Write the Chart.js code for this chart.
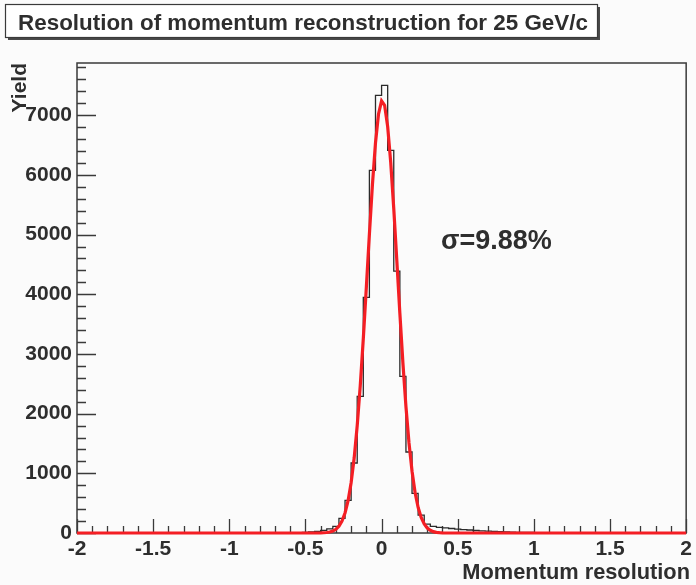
<!DOCTYPE html>
<html><head><meta charset="utf-8">
<script src="https://cdn.jsdelivr.net/npm/chart.js@4.4.0/dist/chart.umd.min.js"></script>
<style>html,body{margin:0;padding:0;background:#fbfbfb}#wrap{width:696px;height:585px}</style>
</head><body><div id="wrap"><canvas id="c" width="696" height="585"></canvas></div>
<script>
// ---- data ----
const binStart = -0.60;
const binWidth = 0.04;
const binCounts = [3, 5, 10, 18, 28, 45, 70, 110, 246, 548, 1173, 2290, 3948, 6076, 7332,
  7499, 6410, 4389, 2625, 1357, 665, 300, 150, 110, 95, 85, 75, 65, 58, 50,
  42, 36, 30, 26, 22, 18, 15, 12, 10, 8];
const fitX = [-2, -0.40, -0.38, -0.36, -0.34, -0.32, -0.30, -0.28, -0.26, -0.24, -0.22, -0.20,
  -0.18, -0.16, -0.14, -0.12, -0.10, -0.08, -0.06, -0.04, -0.02, 0.00, 0.02, 0.04, 0.06,
  0.08, 0.10, 0.12, 0.14, 0.16, 0.18, 0.20, 0.22, 0.24, 0.26, 0.28, 0.30, 0.32, 0.34,
  0.36, 0.38, 0.40, 2];
const fitY = [0, 2, 4, 8, 16, 32, 62, 113, 199, 335, 542, 842,
  1256, 1798, 2469, 3257, 4121, 5008, 5839, 6536, 7022, 7241, 7167, 6809, 6209,
  5435, 4566, 3683, 2851, 2118, 1510, 1034, 679, 428, 259, 151, 84, 45, 23,
  11, 5, 2, 0];
const xTickValues = [-2, -1.5, -1, -0.5, 0, 0.5, 1, 1.5, 2];
const yTickValues = [0, 1000, 2000, 3000, 4000, 5000, 6000, 7000];
const xMin = -2, xMax = 2, xMinor = 0.1;
const yMin = 0, yMax = 7875, yMinor = 200;
const titleText = 'Resolution of momentum reconstruction for 25 GeV/c';
const xTitle = 'Momentum resolution';
const yTitle = 'Yield';
const sigmaText = 'σ=9.88%';

// ---- build datasets (stepped 'before': each point's value holds until the next point) ----
const histPts = [{x: xMin, y: 0}];
binCounts.forEach((c, i) => histPts.push({x: +(binStart + i * binWidth).toFixed(4), y: c}));
histPts.push({x: +(binStart + binCounts.length * binWidth).toFixed(4), y: 0});
histPts.push({x: xMax, y: 0});
const fitPts = fitX.map((x, i) => ({x, y: fitY[i]}));

const FONT = '"Liberation Sans", Arial, Helvetica, sans-serif';
const TXT = '#2e2e2e';
const AX = '#3a3a3a';

const deco = {
  id: 'deco',
  beforeDraw(chart) {
    const ctx = chart.ctx;
    ctx.save();
    ctx.fillStyle = '#fbfbfb';
    ctx.fillRect(0, 0, chart.width, chart.height);
    ctx.restore();
  },
  beforeDatasetsDraw(chart) {
    const ctx = chart.ctx;
    const {left, right, top, bottom} = chart.chartArea;
    const xs = chart.scales.x, ys = chart.scales.y;
    ctx.save();
    ctx.strokeStyle = AX;
    ctx.lineWidth = 1.5;
    ctx.strokeRect(left, top, right - left, bottom - top);
    ctx.lineWidth = 1.3;
    ctx.beginPath();
    for (let k = 0; ; k++) {
      const v = xMin + k * xMinor;
      if (v > xMax + 1e-9) break;
      const px = Math.round(xs.getPixelForValue(v)) + 0.5;
      const major = k % 5 === 0;
      ctx.moveTo(px, bottom);
      ctx.lineTo(px, bottom - (major ? 14 : 7));
    }
    for (let k = 0; ; k++) {
      const v = yMin + k * yMinor;
      if (v > yMax + 1e-9) break;
      const py = Math.round(ys.getPixelForValue(v)) + 0.5;
      const major = k % 5 === 0;
      ctx.moveTo(left, py);
      ctx.lineTo(left + (major ? 19 : 9), py);
    }
    ctx.stroke();
    ctx.restore();
  },
  afterDraw(chart) {
    const ctx = chart.ctx;
    const {top} = chart.chartArea;
    ctx.save();
    // title box with shadow
    const bx = 5, by = 4, bw = 592, bh = 33;
    ctx.fillStyle = '#4a4a4a';
    ctx.fillRect(bx + 3, by + 3, bw, bh);
    ctx.fillStyle = '#ffffff';
    ctx.fillRect(bx, by, bw, bh);
    ctx.strokeStyle = AX;
    ctx.lineWidth = 1.2;
    ctx.strokeRect(bx + 0.5, by + 0.5, bw, bh);
    ctx.fillStyle = TXT;
    ctx.font = 'bold 22.4px ' + FONT;
    ctx.textAlign = 'center';
    ctx.textBaseline = 'alphabetic';
    ctx.fillText(titleText, 303, by + 26);
    // x title
    ctx.font = 'bold 21.8px ' + FONT;
    ctx.textAlign = 'right';
    ctx.fillText(xTitle, 690, 579);
    // y title
    ctx.save();
    ctx.font = 'bold 21px ' + FONT;
    ctx.translate(26, top);
    ctx.rotate(-Math.PI / 2);
    ctx.textAlign = 'right';
    ctx.fillText(yTitle, 0, 0);
    ctx.restore();
    // sigma
    ctx.font = 'bold 27px ' + FONT;
    ctx.textAlign = 'left';
    ctx.fillText(sigmaText, 441, 249);
    ctx.restore();
  }
};

new Chart(document.getElementById('c'), {
  type: 'line',
  data: {
    datasets: [
      {label: 'fit', data: fitPts, borderColor: '#f41e24', borderWidth: 3.2, pointRadius: 0,
       fill: false, tension: 0, clip: false, order: 0},
      {label: 'hist', data: histPts, borderColor: '#2a2a2a', borderWidth: 1.3, pointRadius: 0,
       stepped: 'before', fill: false, clip: false, order: 1}
    ]
  },
  options: {
    responsive: false,
    animation: false,
    devicePixelRatio: 1,
    layout: {padding: {top: 63, right: 6, left: 0, bottom: 0}},
    plugins: {legend: {display: false}, title: {display: false}, tooltip: {enabled: false}},
    scales: {
      x: {
        type: 'linear', min: xMin, max: xMax,
        grid: {display: false, drawTicks: false},
        border: {display: false},
        afterBuildTicks(s) { s.ticks = xTickValues.map(v => ({value: v})); },
        ticks: {padding: 4, maxRotation: 0, autoSkip: false,
                color: TXT, font: {family: FONT, size: 21, weight: 'bold'},
                callback: v => String(v)},
        afterFit(s) { s.height = 52; }
      },
      y: {
        type: 'linear', min: yMin, max: yMax,
        grid: {display: false, drawTicks: false},
        border: {display: false},
        afterBuildTicks(s) { s.ticks = yTickValues.map(v => ({value: v})); },
        ticks: {padding: 5, autoSkip: false,
                color: TXT, font: {family: FONT, size: 21, weight: 'bold'},
                callback: v => String(v)},
        afterFit(s) { s.width = 77; }
      }
    }
  },
  plugins: [deco]
});
</script>
</body></html>
